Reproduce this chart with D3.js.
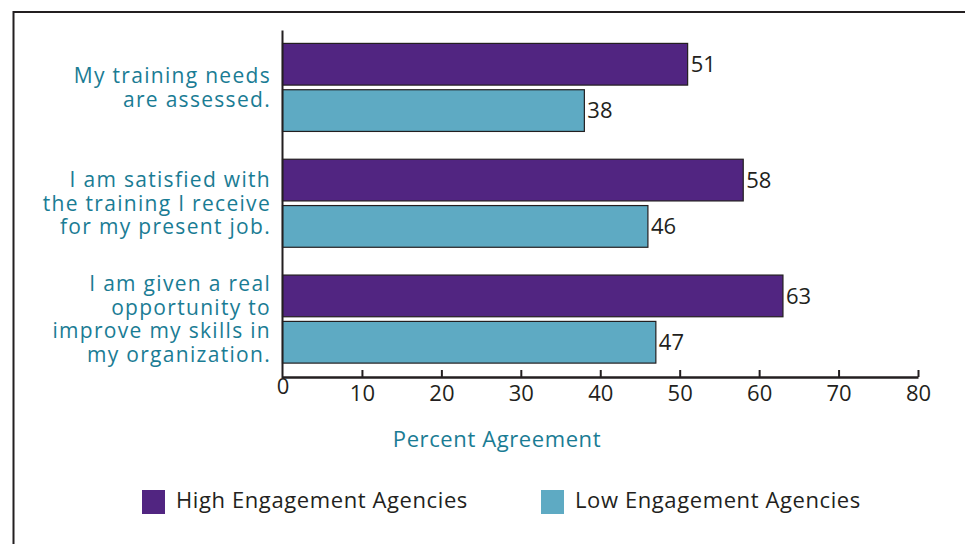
<!DOCTYPE html>
<html>
<head>
<meta charset="utf-8">
<script src="https://cdn.jsdelivr.net/npm/d3@7"></script>
<style>
  html, body { margin: 0; padding: 0; background: #fff; }
  svg { display: block; }
  text { font-family: "Open Sans", Lato, sans-serif; }
</style>
</head>
<body>
<svg id="chart" width="965" height="544"></svg>
<script>
// Survey items (multi-line labels) and percent agreement per group
const categories = [
  ["My training needs", "are assessed."],
  ["I am satisfied with", "the training I receive", "for my present job."],
  ["I am given a real", "opportunity to", "improve my skills in", "my organization."]
];
const seriesNames = ["High Engagement Agencies", "Low Engagement Agencies"];
const highValues = [51, 58, 63];
const lowValues = [38, 46, 47];
const tickValues = [0, 10, 20, 30, 40, 50, 60, 70, 80];
const axisTitle = "Percent Agreement";

const colors = { high: "#512581", low: "#5eaac3" };
const ink = "#231f20";
const teal = "#1a7c94";

const svg = d3.select("#chart");

// outer frame, running off the right and bottom edges
svg.append("rect")
  .attr("x", 13.5).attr("y", 12)
  .attr("width", 1000).attr("height", 600)
  .attr("fill", "none").attr("stroke", ink).attr("stroke-width", 2);

const keys = categories.map((c, i) => i);
const x = d3.scaleLinear().domain([0, 80]).range([282.5, 918]);
const y = d3.scaleBand().domain(keys).range([29.5, 377])
  .paddingInner(0.24).paddingOuter(0.12);
const ySub = d3.scaleBand().domain(["high", "low"])
  .range([0, y.bandwidth()]).paddingInner(0.1);

const rows = keys.map(i => ({ i, high: highValues[i], low: lowValues[i] }));

// bars
const groups = svg.append("g").selectAll("g").data(rows).join("g")
  .attr("transform", d => `translate(0,${y(d.i)})`);

groups.selectAll("rect")
  .data(d => ["high", "low"].map(k => ({ k, v: d[k] })))
  .join("rect")
  .attr("x", x(0))
  .attr("y", d => ySub(d.k))
  .attr("width", d => x(d.v) - x(0))
  .attr("height", ySub.bandwidth())
  .attr("fill", d => colors[d.k])
  .attr("stroke", ink).attr("stroke-width", 1.2);

// value labels at the bar ends
groups.selectAll("text.val")
  .data(d => ["high", "low"].map(k => ({ k, v: d[k] })))
  .join("text")
  .attr("class", "val")
  .attr("x", d => x(d.v) + 3)
  .attr("y", d => ySub(d.k) + ySub.bandwidth() / 2)
  .attr("dy", "0.36em")
  .attr("font-size", 22)
  .attr("fill", ink)
  .text(d => d.v);

// category labels, right aligned, stacked lines
const lineH = 23.5;
svg.append("g").selectAll("text").data(rows).join("text")
  .attr("text-anchor", "end")
  .attr("font-size", 21)
  .attr("letter-spacing", 1.3)
  .attr("fill", teal)
  .each(function (d) {
    const lines = categories[d.i];
    const cy = y(d.i) + y.bandwidth() / 2;
    d3.select(this).selectAll("tspan").data(lines).join("tspan")
      .attr("x", 271)
      .attr("y", (t, j) => cy + (j - (lines.length - 1) / 2) * lineH)
      .attr("dy", "0.36em")
      .text(t => t);
  });

// x axis with upward ticks
const xAxis = svg.append("g")
  .attr("transform", `translate(0,${377})`)
  .call(d3.axisBottom(x).tickValues(tickValues).tickFormat(d3.format("d"))
    .tickSizeInner(-7).tickSizeOuter(0).tickPadding(8.5));
xAxis.select(".domain").attr("stroke", ink).attr("stroke-width", 2.5);
xAxis.selectAll(".tick line").attr("stroke", ink).attr("stroke-width", 2);
xAxis.selectAll(".tick text")
  .attr("font-size", 22).attr("fill", ink)
  .attr("font-family", "'Open Sans', sans-serif");
xAxis.selectAll(".tick").filter(d => d === 0).select("line").remove();
xAxis.selectAll(".tick").filter(d => d === 0).select("text").attr("y", 1.5);

// vertical axis line
svg.append("line")
  .attr("x1", x(0)).attr("x2", x(0))
  .attr("y1", 30.5).attr("y2", 378)
  .attr("stroke", ink).attr("stroke-width", 2);

// axis title
svg.append("text")
  .attr("x", 497).attr("y", 447)
  .attr("text-anchor", "middle")
  .attr("font-size", 22).attr("letter-spacing", 0.6).attr("fill", teal)
  .text(axisTitle);

// legend
const legendX = [142, 541];
const legend = svg.append("g").selectAll("g").data(seriesNames).join("g")
  .attr("transform", (d, i) => `translate(${legendX[i]},490)`);
legend.append("rect")
  .attr("width", 23).attr("height", 24)
  .attr("fill", (d, i) => i === 0 ? colors.high : colors.low);
legend.append("text")
  .attr("x", 34).attr("y", 18)
  .attr("font-size", 22).attr("letter-spacing", 0.6).attr("fill", ink)
  .text(d => d);
</script>
</body>
</html>
